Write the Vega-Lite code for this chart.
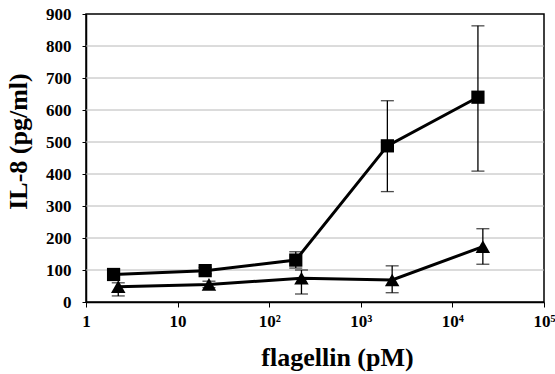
{
  "$schema": "https://vega.github.io/schema/vega-lite/v6.json",
  "width": 458,
  "height": 288,
  "autosize": "none",
  "padding": {"left": 86, "top": 14, "right": 11, "bottom": 72},
  "background": "white",
  "datasets": {
    "pts": [
      {"series": "square", "x": 2, "y": 86, "lo": 78, "hi": 94},
      {"series": "square", "x": 20, "y": 98, "lo": 88, "hi": 108},
      {"series": "square", "x": 195, "y": 131, "lo": 106, "hi": 157},
      {"series": "square", "x": 1950, "y": 488, "lo": 345, "hi": 629},
      {"series": "square", "x": 19000, "y": 640, "lo": 409, "hi": 863},
      {"series": "triangle", "x": 2.25, "y": 48, "lo": 19, "hi": 60},
      {"series": "triangle", "x": 22, "y": 55, "lo": 45, "hi": 65},
      {"series": "triangle", "x": 225, "y": 74, "lo": 25, "hi": 100},
      {"series": "triangle", "x": 2200, "y": 69, "lo": 29, "hi": 113},
      {"series": "triangle", "x": 21500, "y": 173, "lo": 118, "hi": 229}
    ],
    "grid": [{"g": 100}, {"g": 200}, {"g": 300}, {"g": 400}, {"g": 500}, {"g": 600}, {"g": 700}, {"g": 800}]
  },
  "data": {"name": "pts"},
  "config": {
    "view": {"stroke": "black", "strokeWidth": 1.5},
    "axis": {
      "labelFont": "Liberation Serif",
      "labelFontWeight": "bold",
      "labelFontSize": 17,
      "labelColor": "black",
      "labelOverlap": false,
      "labelFlush": false,
      "titleFont": "Liberation Serif",
      "titleFontWeight": "bold",
      "titleFontSize": 26,
      "titleColor": "black",
      "domainColor": "black",
      "domainWidth": 1.5,
      "tickColor": "black",
      "tickWidth": 1,
      "grid": false
    },
    "axisY": {"labelPadding": 11, "tickSize": 4},
    "axisX": {"labelPadding": 6, "tickSize": 5}
  },
  "layer": [
    {
      "data": {"name": "grid"},
      "mark": {"type": "rule", "color": "#b8b8b8", "strokeWidth": 1},
      "encoding": {
        "y": {
          "field": "g",
          "type": "quantitative",
          "scale": {"domain": [0, 900], "nice": false},
          "title": "IL-8 (pg/ml)",
          "axis": {
            "values": [0, 100, 200, 300, 400, 500, 600, 700, 800, 900],
            "titleX": -68,
            "titleY": 127,
            "titleBaseline": "middle",
            "titleAlign": "center",
            "titleAngle": -90
          }
        }
      }
    },
    {
      "mark": {"type": "rule", "color": "black", "strokeWidth": 1.3},
      "encoding": {
        "x": {
          "field": "x",
          "type": "quantitative",
          "scale": {"type": "log", "domain": [1, 100000]},
          "title": "flagellin (pM)",
          "axis": {
            "values": [1, 10, 100, 1000, 10000, 100000],
            "labelExpr": "datum.value == 1 ? '1' : datum.value == 10 ? '10' : datum.value == 100 ? '10\u00b2' : datum.value == 1000 ? '10\u00b3' : datum.value == 10000 ? '10\u2074' : '10\u2075'",
            "titleX": 251,
            "titleY": 55,
            "titleBaseline": "middle",
            "titleAnchor": "middle",
            "titleAlign": "center"
          }
        },
        "y": {
          "field": "lo",
          "type": "quantitative",
          "scale": {"domain": [0, 900], "nice": false},
          "title": "IL-8 (pg/ml)",
          "axis": {
            "values": [0, 100, 200, 300, 400, 500, 600, 700, 800, 900],
            "titleX": -68,
            "titleY": 127,
            "titleBaseline": "middle",
            "titleAlign": "center",
            "titleAngle": -90
          }
        },
        "y2": {"field": "hi"}
      }
    },
    {
      "mark": {"type": "tick", "color": "black", "orient": "horizontal", "size": 13, "thickness": 1.3},
      "encoding": {
        "x": {"field": "x", "type": "quantitative", "title": "flagellin (pM)"},
        "y": {
          "field": "lo",
          "type": "quantitative",
          "title": "IL-8 (pg/ml)",
          "axis": {
            "values": [0, 100, 200, 300, 400, 500, 600, 700, 800, 900],
            "titleX": -68,
            "titleY": 127,
            "titleBaseline": "middle",
            "titleAlign": "center",
            "titleAngle": -90
          }
        }
      }
    },
    {
      "mark": {"type": "tick", "color": "black", "orient": "horizontal", "size": 13, "thickness": 1.3},
      "encoding": {
        "x": {"field": "x", "type": "quantitative", "title": "flagellin (pM)"},
        "y": {
          "field": "hi",
          "type": "quantitative",
          "title": "IL-8 (pg/ml)",
          "axis": {
            "values": [0, 100, 200, 300, 400, 500, 600, 700, 800, 900],
            "titleX": -68,
            "titleY": 127,
            "titleBaseline": "middle",
            "titleAlign": "center",
            "titleAngle": -90
          }
        }
      }
    },
    {
      "mark": {"type": "line", "color": "black", "strokeWidth": 3},
      "encoding": {
        "x": {"field": "x", "type": "quantitative", "title": "flagellin (pM)"},
        "y": {
          "field": "y",
          "type": "quantitative",
          "title": "IL-8 (pg/ml)",
          "axis": {
            "values": [0, 100, 200, 300, 400, 500, 600, 700, 800, 900],
            "titleX": -68,
            "titleY": 127,
            "titleBaseline": "middle",
            "titleAlign": "center",
            "titleAngle": -90
          }
        },
        "detail": {"field": "series"}
      }
    },
    {
      "mark": {"type": "point", "filled": true, "opacity": 1, "color": "black"},
      "encoding": {
        "x": {"field": "x", "type": "quantitative", "title": "flagellin (pM)"},
        "y": {
          "field": "y",
          "type": "quantitative",
          "title": "IL-8 (pg/ml)",
          "axis": {
            "values": [0, 100, 200, 300, 400, 500, 600, 700, 800, 900],
            "titleX": -68,
            "titleY": 127,
            "titleBaseline": "middle",
            "titleAlign": "center",
            "titleAngle": -90
          }
        },
        "shape": {
          "field": "series",
          "type": "nominal",
          "scale": {"domain": ["square", "triangle"], "range": ["square", "triangle-up"]},
          "legend": null
        },
        "size": {
          "field": "series",
          "type": "nominal",
          "scale": {"domain": ["square", "triangle"], "range": [175, 210]},
          "legend": null
        }
      }
    }
  ]
}
